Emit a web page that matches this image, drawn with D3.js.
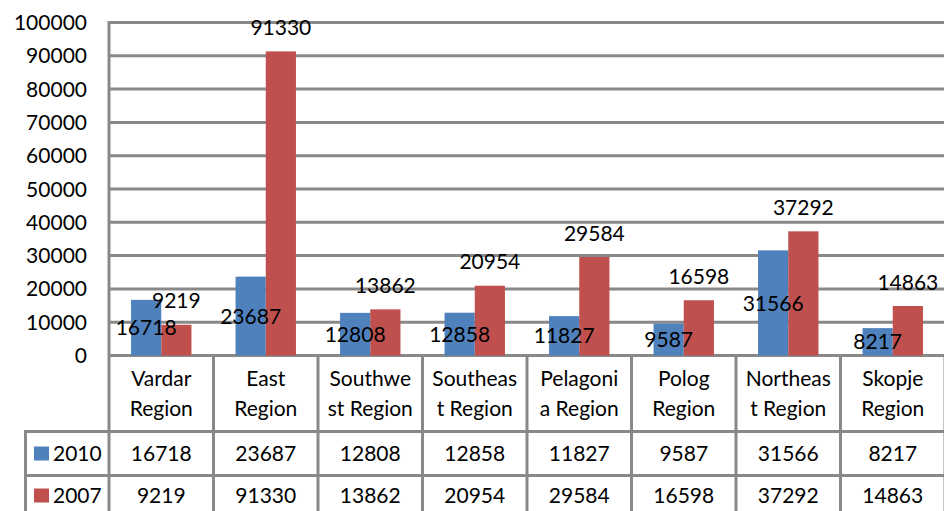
<!DOCTYPE html>
<html>
<head>
<meta charset="utf-8">
<style>
  body { margin: 0; background: #fff; }
  text { font-family: Lato, "Open Sans", sans-serif; font-size: 21px; fill: #000; }
</style>
</head>
<body>
<div id="chart"></div>
<script src="https://d3js.org/d3.v7.min.js"></script>
<script>
  // data
  const categories = ["Vardar Region", "East Region", "Southwest Region", "Southeast Region",
    "Pelagonia Region", "Polog Region", "Northeast Region", "Skopje Region"];
  // header text, wrapped the way the table shows it
  const headerLines = [["Vardar", "Region"], ["East", "Region"], ["Southwe", "st Region"],
    ["Southeas", "t Region"], ["Pelagoni", "a Region"], ["Polog", "Region"],
    ["Northeas", "t Region"], ["Skopje", "Region"]];
  const values2010 = [16718, 23687, 12808, 12858, 11827, 9587, 31566, 8217];
  const values2007 = [9219, 91330, 13862, 20954, 29584, 16598, 37292, 14863];
  const seriesNames = ["2010", "2007"];
  const yTicks = [0, 10000, 20000, 30000, 40000, 50000, 60000, 70000, 80000, 90000, 100000];

  const W = 944, H = 511;
  const plotLeft = 109, plotRight = 945, plotTop = 22.5, zeroY = 355.5;
  const headerBottom = 431.5, row1Bottom = 475.5, legendLeft = 25.5;
  const lineColor = "#898989";
  const colors = { "2010": "#4F81BD", "2007": "#C0504D" };

  const svg = d3.select("#chart").append("svg")
    .attr("width", W).attr("height", H);

  const x = d3.scaleBand().domain(categories).range([plotLeft, plotRight]).paddingInner(0).paddingOuter(0);
  const x1 = d3.scaleBand().domain(seriesNames).range([0, x.bandwidth()]).paddingInner(0).paddingOuter(0.73);
  const y = d3.scaleLinear().domain([0, 100000]).range([zeroY, plotTop]);

  // gridlines
  svg.append("g").selectAll("line").data(yTicks).join("line")
    .attr("x1", plotLeft - 1).attr("x2", W)
    .attr("y1", d => y(d)).attr("y2", d => y(d))
    .attr("stroke", lineColor).attr("stroke-width", 3);

  // y tick labels
  svg.append("g").selectAll("text").data(yTicks).join("text")
    .attr("x", 87).attr("y", d => y(d))
    .attr("dy", "0.36em")
    .attr("text-anchor", "end")
    .text(d => d);

  const rows = categories.map((c, i) => ({ cat: c, "2010": values2010[i], "2007": values2007[i] }));

  // bars
  const groups = svg.append("g").selectAll("g").data(rows).join("g")
    .attr("transform", d => "translate(" + x(d.cat) + ",0)");

  groups.selectAll("rect").data(d => seriesNames.map(s => ({ s: s, v: d[s] }))).join("rect")
    .attr("x", d => x1(d.s))
    .attr("width", x1.bandwidth())
    .attr("y", d => y(d.v))
    .attr("height", d => zeroY - y(d.v))
    .attr("fill", d => colors[d.s]);

  // data labels: 2010 in the middle of the bar, 2007 above it
  groups.selectAll("text").data(d => seriesNames.map(s => ({ s: s, v: d[s] }))).join("text")
    .attr("x", d => x1(d.s) + x1.bandwidth() / 2)
    .attr("y", d => d.s === "2010" ? (y(d.v) + zeroY) / 2 : y(d.v) - 24)
    .attr("dy", "0.36em")
    .attr("text-anchor", "middle")
    .text(d => d.v);

  // table lines
  const tbl = svg.append("g").attr("stroke", lineColor).attr("stroke-width", 3);
  tbl.append("line").attr("x1", plotLeft).attr("x2", plotLeft).attr("y1", plotTop - 1.5).attr("y2", H);
  categories.forEach(c => {
    const xr = x(c) + x.bandwidth();
    tbl.append("line").attr("x1", xr).attr("x2", xr).attr("y1", zeroY).attr("y2", H);
  });
  tbl.append("line").attr("x1", legendLeft).attr("x2", legendLeft).attr("y1", headerBottom - 1.5).attr("y2", H);
  [headerBottom, row1Bottom].forEach(yy => {
    tbl.append("line").attr("x1", legendLeft - 1.5).attr("x2", W).attr("y1", yy).attr("y2", yy);
  });

  // header cells
  const header = svg.append("g");
  categories.forEach((c, i) => {
    const t = header.append("text")
      .attr("x", x(c) + x.bandwidth() / 2)
      .attr("text-anchor", "middle");
    headerLines[i].forEach((ln, k) => {
      t.append("tspan").attr("x", x(c) + x.bandwidth() / 2)
        .attr("y", 378 + k * 30).attr("dy", "0.36em").text(ln);
    });
  });

  // value rows
  const rowY = { "2010": 453.5, "2007": 495.5 };
  seriesNames.forEach(s => {
    const vals = s === "2010" ? values2010 : values2007;
    svg.append("g").selectAll("text").data(categories).join("text")
      .attr("x", d => x(d) + x.bandwidth() / 2)
      .attr("y", rowY[s]).attr("dy", "0.36em")
      .attr("text-anchor", "middle")
      .text((d, i) => vals[i]);
    // legend key
    svg.append("rect").attr("x", 34).attr("y", rowY[s] - 7).attr("width", 15).attr("height", 14)
      .attr("fill", colors[s]);
    svg.append("text").attr("x", 53).attr("y", rowY[s]).attr("dy", "0.36em").text(s);
  });
</script>
</body>
</html>
